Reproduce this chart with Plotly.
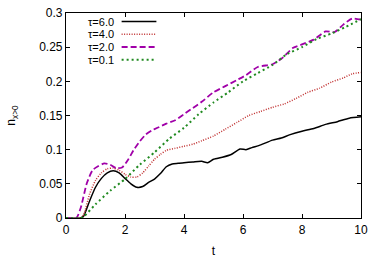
import plotly.graph_objects as go

# τ=6.0
t_a = [0, 0.5, 0.6, 0.8, 1.0, 1.2, 1.4, 1.6, 1.8, 2.0, 2.2, 2.4, 2.6, 2.8, 3.0, 3.2, 3.4, 3.6, 3.8, 4.0,
       4.3, 4.6, 4.8, 5.0, 5.3, 5.6, 5.9, 6.1, 6.3, 6.6, 7.0, 7.3, 7.6, 8.0, 8.4, 8.8, 9.2, 9.6, 10.0]
n_a = [0, 0, 0.003, 0.025, 0.045, 0.058, 0.066, 0.069, 0.066, 0.058, 0.05, 0.045, 0.046, 0.052, 0.057,
       0.065, 0.075, 0.079, 0.08, 0.081, 0.082, 0.083, 0.081, 0.086, 0.089, 0.093, 0.101, 0.1, 0.103,
       0.107, 0.114, 0.117, 0.122, 0.127, 0.131, 0.137, 0.141, 0.146, 0.148]
# τ=4.0
t_b = [0, 0.5, 0.6, 0.8, 1.0, 1.2, 1.4, 1.6, 1.8, 2.0, 2.2, 2.4, 2.6, 2.8, 3.0, 3.2, 3.4, 3.7, 4.0, 4.3,
       4.6, 5.0, 5.4, 5.8, 6.2, 6.6, 7.0, 7.4, 7.8, 8.2, 8.6, 9.0, 9.4, 9.7, 10.0]
n_b = [0, 0, 0.005, 0.035, 0.055, 0.066, 0.072, 0.073, 0.07, 0.064, 0.06, 0.06, 0.066, 0.076, 0.086,
       0.093, 0.099, 0.102, 0.105, 0.108, 0.113, 0.12, 0.13, 0.14, 0.15, 0.156, 0.162, 0.167, 0.175,
       0.184, 0.19, 0.199, 0.205, 0.211, 0.213]
# τ=2.0
t_c = [0, 0.35, 0.5, 0.7, 0.9, 1.1, 1.3, 1.5, 1.7, 1.9, 2.1, 2.3, 2.5, 2.7, 2.9, 3.1, 3.4, 3.7, 4.0, 4.3,
       4.6, 5.0, 5.4, 5.8, 6.1, 6.5, 7.0, 7.3, 7.7, 8.0, 8.4, 8.8, 9.1, 9.4, 9.7, 10.0]
n_c = [0, 0, 0.015, 0.05, 0.07, 0.076, 0.08, 0.078, 0.073, 0.074, 0.085, 0.1, 0.112, 0.122, 0.128, 0.132,
       0.138, 0.143, 0.152, 0.161, 0.17, 0.184, 0.193, 0.202, 0.209, 0.221, 0.225, 0.233, 0.249, 0.254,
       0.261, 0.273, 0.272, 0.283, 0.292, 0.29]
# τ=0.1
t_d = [0, 0.5, 0.6, 1.0, 1.5, 2.0, 2.5, 3.0, 3.5, 4.0, 4.5, 5.0, 5.5, 6.0, 6.5, 7.0, 7.5, 8.0, 8.5, 9.0,
       9.5, 10.0]
n_d = [0, 0, 0.002, 0.02, 0.04, 0.057, 0.078, 0.096, 0.116, 0.132, 0.152, 0.169, 0.184, 0.2, 0.212,
       0.224, 0.24, 0.25, 0.262, 0.27, 0.28, 0.291]

labels = ["τ=6.0", "τ=4.0", "τ=2.0", "τ=0.1"]
x_ticks = [0, 2, 4, 6, 8, 10]
y_ticks = [0, 0.05, 0.1, 0.15, 0.2, 0.25, 0.3]
y_ticktext = ["0", "0.05", "0.1", "0.15", "0.2", "0.25", "0.3"]

colors = ["#000000", "#c03030", "#a000a8", "#208a20"]
dashes = ["solid", "1px,1.5px", "6px,3px", "2px,3px"]
widths = [1.5, 1.5, 1.8, 2.0]

xs = [t_a, t_b, t_c, t_d]
ys = [n_a, n_b, n_c, n_d]

FONT = "Liberation Sans, Arial"

fig = go.Figure()
for x, y, lab, c, d, w in zip(xs, ys, labels, colors, dashes, widths):
    fig.add_trace(go.Scatter(x=x, y=y, mode="lines", name=lab,
                             line=dict(color=c, dash=d, width=w, shape="spline", smoothing=0.6),
                             showlegend=False))

# legend (text left of sample line, as in the reference)
W, H = 297.0, 217.0
rows = [15, 28.5, 42, 55.5]
for lab, c, d, w, py in zip(labels, colors, dashes, widths, rows):
    yp = (223 - py) / H
    fig.add_annotation(x=(115 - 66) / W, y=yp, xref="paper", yref="paper", text=lab,
                       showarrow=False, xanchor="right", yanchor="middle", borderpad=0,
                       font=dict(size=11, color="black", family=FONT))
    fig.add_shape(type="line", xref="paper", yref="paper",
                  x0=(122 - 66) / W, x1=(157 - 66) / W, y0=yp, y1=yp,
                  line=dict(color=c, dash=d, width=w))

axis_common = dict(showline=True, mirror="ticks", linecolor="black", linewidth=1.2,
                   ticks="inside", ticklen=4, tickcolor="black", showgrid=False, zeroline=False,
                   ticklabeloverflow="allow",
                   tickfont=dict(size=12, color="black", family=FONT))

fig.update_layout(
    width=374, height=262,
    margin=dict(l=66, r=11, t=6, b=39),
    plot_bgcolor="white", paper_bgcolor="white",
    xaxis=dict(range=[0, 10], tickvals=x_ticks,
               title=dict(text="t", font=dict(size=12, color="black", family=FONT),
                          standoff=11),
               **axis_common),
    yaxis=dict(range=[0, 0.3], tickvals=y_ticks, ticktext=y_ticktext,
               title=dict(text="n<sub>x&gt;0</sub>",
                          font=dict(size=12, color="black", family=FONT),
                          standoff=20),
               **axis_common),
)

fig.write_html("out.html", config={"displayModeBar": False},
               post_script="document.body.style.margin='0';document.body.style.overflow='hidden';")
